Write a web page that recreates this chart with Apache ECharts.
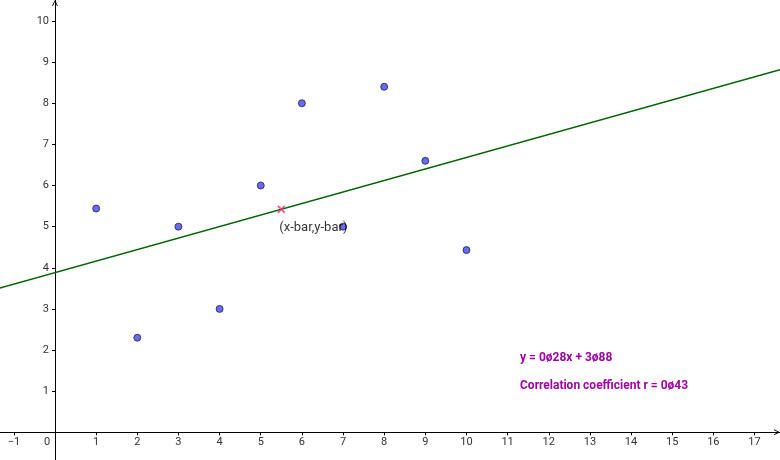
<!DOCTYPE html>
<html>
    <head>
        <meta charset="utf-8">
        <title>Regression</title>
        <script src="https://cdn.jsdelivr.net/npm/echarts@6.0.0/dist/echarts.min.js"></script>
        <style>
            html, body { margin: 0; padding: 0; background: #fff; }
            #chart1 { width: 780px; height: 460px; }
        </style>
    </head>
    <body>
        <div id="chart1"></div>
    </body>
    <script type="text/javascript">
        // data
        var pointsX = [1, 2, 3, 4, 5, 6, 7, 8, 9, 10];
        var pointsY = [5.44, 2.3, 5, 3, 6, 8, 5, 8.4, 6.6, 4.43];
        var meanPoint = [5.5, 5.42];
        var lineX = [-1.34, 17.62];
        var lineY = [3.505, 8.814];
        var xTicks = [-1, 0, 1, 2, 3, 4, 5, 6, 7, 8, 9, 10, 11, 12, 13, 14, 15, 16, 17];
        var yTicks = [1, 2, 3, 4, 5, 6, 7, 8, 9, 10];
        var equationText = 'y = 0ø28x + 3ø88';
        var corrText = 'Correlation coefficient r = 0ø43';
        var meanLabel = '(x-bar,y-bar)';

        var scatterData = pointsX.map(function (x, i) { return [x, pointsY[i]]; });
        var lineData = lineX.map(function (x, i) { return [x, lineY[i]]; });

        var chevron = 'path://M0,10 L5,0 L10,10 L8.4,10 L5,3 L1.6,10 Z';
        var labelFont = { color: '#333', fontSize: 11, fontFamily: 'Roboto' };

        var myChart1 = echarts.init(document.getElementById('chart1'));
        myChart1.setOption({
            animation: false,
            grid: {
                left: 0, right: 0, top: 0, bottom: 0,
                outerBounds: { left: -200, right: -200, top: -200, bottom: -200 }
            },
            xAxis: {
                type: 'value',
                min: -1.337,
                max: 17.62,
                offset: -27.7,
                splitLine: { show: false },
                axisLine: {
                    onZero: false,
                    lineStyle: { color: '#000', width: 1 },
                    symbol: ['none', chevron],
                    symbolSize: [9, 6],
                    symbolOffset: [0, -3]
                },
                axisTick: { show: true, customValues: xTicks, length: 3, lineStyle: { color: '#000' } },
                axisLabel: {
                    customValues: xTicks,
                    margin: 4,
                    color: labelFont.color,
                    fontSize: labelFont.fontSize,
                    fontFamily: labelFont.fontFamily,
                    formatter: function (v) {
                        if (v === 0) return '{z|0}';
                        return v < 0 ? '\u2212' + Math.abs(v) : String(v);
                    },
                    rich: { z: { padding: [0, 16, 0, 0], color: '#333', fontSize: 11, fontFamily: 'Roboto' } }
                }
            },
            yAxis: {
                type: 'value',
                min: -0.673,
                max: 10.51,
                offset: -55,
                splitLine: { show: false },
                axisLine: {
                    onZero: false,
                    lineStyle: { color: '#000', width: 1 },
                    symbol: ['none', chevron],
                    symbolSize: [9, 6],
                    symbolOffset: [0, -3]
                },
                axisTick: { show: true, customValues: yTicks, length: 3, lineStyle: { color: '#000' } },
                axisLabel: {
                    customValues: yTicks,
                    margin: 6,
                    color: labelFont.color,
                    fontSize: labelFont.fontSize,
                    fontFamily: labelFont.fontFamily
                }
            },
            series: [
                {
                    type: 'line',
                    data: lineData,
                    symbol: 'none',
                    lineStyle: { color: '#006400', width: 1.5 },
                    silent: true,
                    z: 2
                },
                {
                    type: 'scatter',
                    data: scatterData,
                    symbol: 'circle',
                    symbolSize: 7,
                    itemStyle: { color: '#6a6af0', borderColor: '#222244', borderWidth: 0.8, opacity: 1 },
                    z: 3
                },
                {
                    type: 'scatter',
                    data: [meanPoint],
                    symbol: 'path://M0,0 L10,10 M10,0 L0,10',
                    symbolSize: 7,
                    itemStyle: { color: 'none', borderColor: '#ff2d6f', borderWidth: 1.8 },
                    label: {
                        show: true,
                        formatter: meanLabel,
                        position: [4, 18],
                        align: 'left',
                        verticalAlign: 'top',
                        color: '#000',
                        textBorderWidth: 0,
                        fontSize: 13,
                        fontFamily: 'Roboto'
                    },
                    z: 4
                }
            ],
            graphic: [
                {
                    type: 'text', left: 520, top: 352,
                    style: { text: equationText, fill: '#a100a8', font: 'bold 12px Roboto' }
                },
                {
                    type: 'text', left: 520, top: 380,
                    style: { text: corrText, fill: '#a100a8', font: 'bold 12px Roboto' }
                }
            ]
        });
    </script>
</html>
